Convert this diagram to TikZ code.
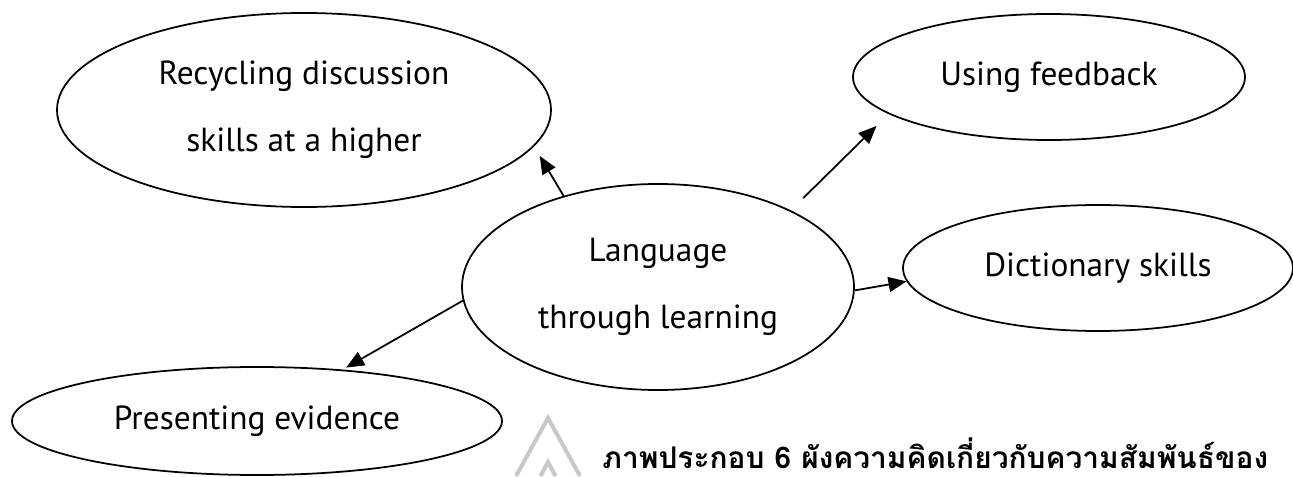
\documentclass[tikz,border=0pt]{standalone}
\usepackage{fontspec}
\setmainfont{PT Sans}
\newfontfamily\thaifont[Script=Thai]{Loma}
\usetikzlibrary{shapes.geometric, arrows.meta}
\definecolor{wmgray}{RGB}{200,200,200}

\begin{document}
\begin{tikzpicture}[
    bubble/.style={ellipse, draw, line width=1pt, inner sep=0, align=center, font=\fontsize{19}{38}\selectfont},
    link/.style={line width=1pt, -{Triangle[length=0.36cm, width=0.3cm]}},
    wmark/.style={line width=2.3pt, wmgray}
    ]
    \useasboundingbox (0,0) rectangle (25.86,9.52);
    \draw[wmark] (10.32,0) -- (10.96,1.16) -- (11.60,0); % watermark
    \draw[wmark] (10.81,0) -- (10.96,0.28) -- (11.11,0);
    \node[bubble, minimum width=7.84cm, minimum height=4.12cm] (lang) at (13.16,3.78) {Language\\through learning};
    \node[bubble, minimum width=9.88cm, minimum height=3.88cm] (recyc) at (6.08,7.32) {Recycling discussion\\skills at a higher};
    \node[bubble, minimum width=7.84cm, minimum height=2.52cm] (feed) at (20.98,7.98) {Using feedback};
    \node[bubble, minimum width=7.80cm, minimum height=2.52cm] (dict) at (21.96,4.16) {Dictionary skills};
    \node[bubble, minimum width=9.80cm, minimum height=2.16cm] (pres) at (5.14,1.10) {Presenting evidence};
    \draw[link, shorten >=0.22cm] (lang.136.5) -- (recyc.-9.7);
    \draw[link, shorten <=0.35cm, shorten >=0.34cm] (lang.30.5) -- (feed.-167.4);
    \draw[link] (lang.-1) -- (dict.184);
    \draw[link, shorten >=0.08cm] (lang.184.7) -- (pres.31.8);
    \node[anchor=base west, inner sep=0, font=\thaifont\bfseries\fontsize{17}{20}\selectfont] (cap) at (12.04,0.15) {ภาพประกอบ 6 ผังความคิดเกี่ยวกับความสัมพันธ์ของ};
\end{tikzpicture}
\end{document}
